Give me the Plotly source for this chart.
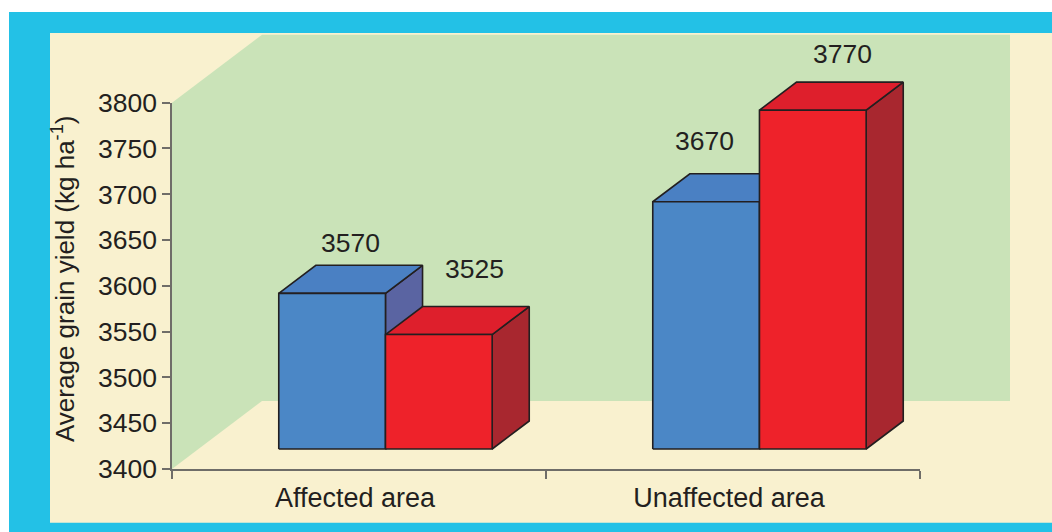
import plotly.graph_objects as go

# ---- data -------------------------------------------------------------
categories = ["Affected area", "Unaffected area"]
values_a = [3570, 3670]   # blue bars
values_b = [3525, 3770]   # red bars
y_ticks = [3400, 3450, 3500, 3550, 3600, 3650, 3700, 3750, 3800]

# ---- page geometry (pixels) -----------------------------------------------
W, H = 1052, 532
PL, PR = 172, 920          # plot area left / right
PT, PB = 102.7, 469        # plot area top (3800) / bottom (3400)
Y0, Y1 = 3400, 3800
X0, X1 = -0.5, 1.5

kx = (PR - PL) / (X1 - X0)     # px per category unit
ky = (PB - PT) / (Y1 - Y0)     # px per yield unit

# full-page drawing axes share the same scale as the visible axes
xr_full = [X0 - PL / kx, X0 + (W - PL) / kx]
yr_full = [Y0 - (H - PB) / ky, Y1 + PT / ky]

# oblique projection of depth (pixels -> data units)
WALL_DX, WALL_DY = 90 / kx, 68 / ky
FRONT_F, BACK_F = 0.294, 0.706          # bars sit in the middle of the depth
fx, fy = WALL_DX * FRONT_F, WALL_DY * FRONT_F
dx, dy = WALL_DX * (BACK_F - FRONT_F), WALL_DY * (BACK_F - FRONT_F)
BAR_W = 106.7 / kx

CYAN = "#23C1E6"
CREAM = "#F9F1CF"
GREEN = "#CAE3B8"
INK = "#231F20"
AXIS = "#6F6D68"
FONT = "Liberation Sans, Arial, sans-serif"
COLORS = [
    dict(front="#4B87C6", top="#4A80C3", side="#5A64A2"),
    dict(front="#EE222A", top="#DE1F2C", side="#A8272F"),
]

fig = go.Figure()


def poly(xs, ys, fill, line=True):
    fig.add_trace(go.Scatter(
        x=xs + [xs[0]], y=ys + [ys[0]], mode="lines", fill="toself",
        fillcolor=fill,
        line=dict(color=INK if line else fill, width=1.6 if line else 0),
        hoverinfo="skip", showlegend=False, xaxis="x", yaxis="y"))


# walls of the 3-D box
poly([X0, X0, X0 + WALL_DX, X0 + WALL_DX],
     [Y0, Y1, Y1 + WALL_DY, Y0 + WALL_DY], GREEN, line=False)
poly([X0 + WALL_DX, X1 + WALL_DX, X1 + WALL_DX, X0 + WALL_DX],
     [Y0 + WALL_DY, Y0 + WALL_DY, Y1 + WALL_DY, Y1 + WALL_DY], GREEN, line=False)


def box(xl, value, col):
    b = Y0 + fy
    v = value + fy
    x = xl + fx
    poly([x + BAR_W, x + BAR_W + dx, x + BAR_W + dx, x + BAR_W],
         [b, b + dy, v + dy, v], col["side"])
    poly([x, x + BAR_W, x + BAR_W + dx, x + dx],
         [v, v, v + dy, v + dy], col["top"])
    poly([x, x + BAR_W, x + BAR_W, x], [b, b, v, v], col["front"])


label_shift = [(0, 36), (17, 52), (-20, 47), (11, 42)]
annotations = []
k = 0
for i, cat in enumerate(categories):
    for j, vals in enumerate([values_a, values_b]):
        xl = i - BAR_W + j * BAR_W
        box(xl, vals[i], COLORS[j])
        sx, sy = label_shift[k]
        k += 1
        annotations.append(dict(
            x=xl + fx + BAR_W / 2 + dx / 2, y=vals[i] + fy + dy / 2,
            xref="x", yref="y", text=str(vals[i]), showarrow=False,
            xanchor="center", yanchor="middle",
            xshift=sx, yshift=sy,
            font=dict(family=FONT, size=26.5, color=INK)))

# invisible points so the visible category axis knows its categories
fig.add_trace(go.Scatter(x=categories, y=[Y0, Y0], mode="markers",
                         marker=dict(opacity=0, size=1), hoverinfo="skip",
                         showlegend=False, xaxis="x2", yaxis="y2"))

annotations.append(dict(
    x=63 / W, y=(H - 279) / H, xref="paper", yref="paper",
    xanchor="center", yanchor="middle",
    text="Average grain yield (kg ha<sup>-1</sup>)", textangle=-90,
    showarrow=False,
    font=dict(family=FONT, size=26, color=INK)))

shapes = [
    dict(type="rect", xref="paper", yref="paper", layer="below",
         x0=9 / W, x1=1, y0=0, y1=(H - 12) / H,
         fillcolor=CYAN, line=dict(width=0)),
    dict(type="rect", xref="paper", yref="paper", layer="below",
         x0=50 / W, x1=1, y0=(H - 522.7) / H, y1=(H - 33) / H,
         fillcolor=CREAM, line=dict(width=0)),
]

fig.update_layout(
    template="none",
    width=W, height=H, margin=dict(l=0, r=0, t=0, b=0, pad=0),
    autosize=False,
    paper_bgcolor="white", plot_bgcolor="rgba(0,0,0,0)",
    showlegend=False, shapes=shapes, annotations=annotations,
    xaxis=dict(domain=[0, 1], range=xr_full, visible=False,
               fixedrange=True, automargin=False),
    yaxis=dict(domain=[0, 1], range=yr_full, visible=False,
               fixedrange=True, automargin=False),
    xaxis2=dict(domain=[PL / W, PR / W], anchor="y2", type="category",
                categoryorder="array", categoryarray=categories,
                range=[X0, X1], tickson="boundaries", ticks="outside",
                ticklen=8, tickcolor=AXIS, tickwidth=1.5,
                ticklabelshift=-4, ticklabelstandoff=4,
                showline=True, linecolor=AXIS, linewidth=1.5,
                showgrid=False, zeroline=False, automargin=False,
                tickfont=dict(family=FONT, size=27, color=INK)),
    yaxis2=dict(domain=[(H - PB) / H, (H - PT) / H], anchor="x2",
                range=[Y0, Y1], tickmode="array", tickvals=y_ticks,
                ticks="outside", ticklen=8, tickcolor=AXIS, tickwidth=1.5,
                showline=True, linecolor=AXIS, linewidth=1.5,
                showgrid=False, zeroline=False, automargin=False,
                tickfont=dict(family=FONT, size=26.5, color=INK)),
)

fig.write_html("out.html")
